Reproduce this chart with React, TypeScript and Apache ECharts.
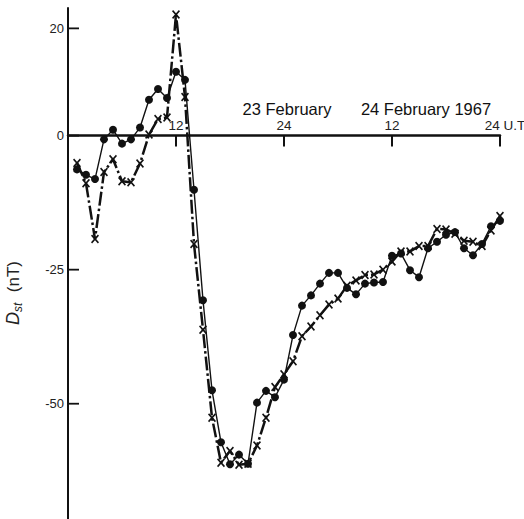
import React, { useEffect, useRef } from "react";
import * as echarts from "echarts";

// Hours (UT) from 00 UT 23 February 1967
const hours = [
  1, 2, 3, 4, 5, 6, 7, 8, 9, 10, 11, 12, 13, 14, 15, 16, 17, 18, 19, 20, 21, 22, 23, 24,
  25, 26, 27, 28, 29, 30, 31, 32, 33, 34, 35, 36, 37, 38, 39, 40, 41, 42, 43, 44, 45, 46, 47, 48,
];

// Dst series drawn with filled dots (solid line)
const dotValues = [
  -6.3, -7.3, -8.1, -0.7, 1.1, -1.5, -0.7, 1.5, 6.7, 8.7, 7.0, 11.9, 10.4, -10.1, -30.7, -47.5,
  -57.2, -61.3, -59.5, -61.2, -49.8, -47.6, -48.8, -45.5, -37.2, -31.7, -29.8, -27.6, -25.6, -25.6,
  -28.4, -29.6, -27.6, -27.4, -27.3, -22.4, -22.0, -25.1, -26.4, -21.0, -19.8, -18.5, -18.0, -21.0,
  -22.3, -20.2, -16.9, -15.9,
];

// Dst series drawn with crosses (dash-dot line)
const crossValues = [
  -5.1, -8.9, -19.3, -6.8, -4.4, -8.5, -8.7, -5.2, 0.2, 3.1, 3.4, 22.6, 7.2, -20.2, -36.2, -52.6,
  -61.0, -58.8, -61.4, -61.2, -57.8, -52.6, -46.9, -44.5, -42.1, -37.4, -35.6, -33.5, -31.5, -30.4,
  -28.0, -27.0, -26.0, -25.9, -25.0, -23.5, -21.6, -21.6, -20.6, -20.6, -17.4, -17.5, -18.3, -19.6,
  -19.8, -20.6, -17.7, -15.0,
];

const xTickValues = [0, 12, 24, 36, 48];
const xTickLabels = ["", "12", "24", "12", "24 U.T"];
const yTickValues = [20, 0, -25, -50];
const yTickLabels = ["20", "0", "-25", "-50"];

const FONT = "Liberation Sans";
const INK = "#111";
const GRID_TOP = 8;
const TICK_LEN = 11;

const crossSymbol =
  "path://M0,1.4 L1.4,0 L5,3.6 L8.6,0 L10,1.4 L6.4,5 L10,8.6 L8.6,10 L5,6.4 L1.4,10 L0,8.6 L3.6,5 Z";

export default function App() {
  const ref = useRef<HTMLDivElement>(null);

  useEffect(() => {
    if (!ref.current) return;
    const chart = echarts.init(ref.current, null, { renderer: "svg" });
    const option: any = {
      animation: false,
      backgroundColor: "#ffffff",
      grid: {
        left: 68,
        right: 24,
        top: GRID_TOP,
        bottom: 0,
        containLabel: false,
        outerBoundsMode: "none",
      },
      xAxis: {
        type: "value",
        position: "top",
        offset: 0,
        min: 0,
        max: 48,
        interval: 12,
        axisLine: { onZero: false, lineStyle: { color: INK, width: 2.5 } },
        splitLine: { show: false },
        axisTick: { show: false },
        axisLabel: {
          show: true,
          inside: false,
          margin: 3,
          showMinLabel: true,
          showMaxLabel: true,
          fontFamily: FONT,
          fontSize: 13.5,
          color: "#222",
          formatter: (v: number) => {
            const i = xTickValues.indexOf(v);
            if (i < 0) return "";
            return i === xTickValues.length - 1 ? "{u|" + xTickLabels[i] + "}" : xTickLabels[i];
          },
          rich: {
            u: { fontFamily: FONT, fontSize: 13.5, color: "#222", padding: [0, 0, 0, 10] },
          },
        },
      },
      yAxis: {
        type: "value",
        min: -71.5,
        max: 23.8,
        axisLine: { show: true, onZero: false, lineStyle: { color: INK, width: 2 } },
        splitLine: { show: false },
        axisTick: { show: false },
        axisLabel: {
          show: true,
          margin: 4,
          customValues: yTickValues,
          fontFamily: FONT,
          fontSize: 13,
          color: "#222",
          formatter: (v: number) => {
            const i = yTickValues.indexOf(v);
            return i < 0 ? "" : yTickLabels[i];
          },
        },
      },
      series: [
        {
          type: "line",
          name: "dots",
          data: hours.map((h, i) => [h, dotValues[i]]),
          symbol: "circle",
          symbolSize: 8,
          showSymbol: true,
          itemStyle: { color: INK },
          lineStyle: { color: INK, width: 1.4, type: "solid" },
          z: 3,
        },
        {
          type: "line",
          name: "crosses",
          data: hours.map((h, i) => [h, crossValues[i]]),
          symbol: crossSymbol,
          symbolSize: [8, 9],
          showSymbol: true,
          itemStyle: { color: INK },
          lineStyle: { color: INK, width: 2.5, type: [14, 3, 2.5, 3] },
          z: 2,
        },
      ],
    };
    chart.setOption(option);

    // place the x axis on the zero line (derived from the y scale)
    const zeroPx = Number(chart.convertToPixel({ yAxisIndex: 0 }, 0));
    const axisXPx = Number(chart.convertToPixel({ xAxisIndex: 0 }, 0));

    const tickLines: any[] = [];
    xTickValues
      .filter((v) => v > 0)
      .forEach((v, k) => {
        const px = Number(chart.convertToPixel({ xAxisIndex: 0 }, v));
        tickLines.push({
          type: "line",
          id: "xt" + k,
          z: 100,
          silent: true,
          shape: { x1: px, y1: zeroPx, x2: px, y2: zeroPx + TICK_LEN },
          style: { stroke: "#111", lineWidth: 2, fill: null },
        });
      });
    yTickValues.forEach((v, k) => {
      const py = Number(chart.convertToPixel({ yAxisIndex: 0 }, v));
      tickLines.push({
        type: "line",
        id: "yt" + k,
        z: 100,
        silent: true,
        shape: { x1: axisXPx, y1: py, x2: axisXPx + TICK_LEN, y2: py },
        style: { stroke: "#111", lineWidth: 1.8, fill: null },
      });
    });

    const texts: any[] = [
      {
        type: "text",
        id: "d1",
        x: 287,
        y: 109,
        style: {
          text: "23 February",
          fontFamily: FONT,
          fontSize: 16.5,
          fill: "#111",
          align: "center",
          verticalAlign: "middle",
        },
      },
      {
        type: "text",
        id: "d2",
        x: 426,
        y: 109,
        style: {
          text: "24 February 1967",
          fontFamily: FONT,
          fontSize: 16.5,
          fill: "#111",
          align: "center",
          verticalAlign: "middle",
        },
      },
      {
        type: "text",
        id: "yname",
        x: 13,
        y: 293,
        rotation: Math.PI / 2,
        style: {
          text: "{d|D}{s|st}  (nT)",
          fontFamily: FONT,
          fontSize: 17,
          fill: "#222",
          align: "center",
          verticalAlign: "middle",
          rich: {
            d: { fontFamily: FONT, fontSize: 18, fontStyle: "italic", fill: "#222" },
            s: {
              fontFamily: FONT,
              fontSize: 12,
              fontStyle: "italic",
              fill: "#222",
              padding: [10, 1, 0, 0],
            },
          },
        },
      },
    ];

    chart.setOption({
      xAxis: { offset: -(zeroPx - GRID_TOP) },
      graphic: { elements: [...texts, ...tickLines] },
    });
    return () => {
      chart.dispose();
    };
  }, []);

  return (
    <div
      ref={ref}
      style={{ position: "fixed", left: 0, top: 0, width: 524, height: 519, background: "#fff" }}
    />
  );
}
